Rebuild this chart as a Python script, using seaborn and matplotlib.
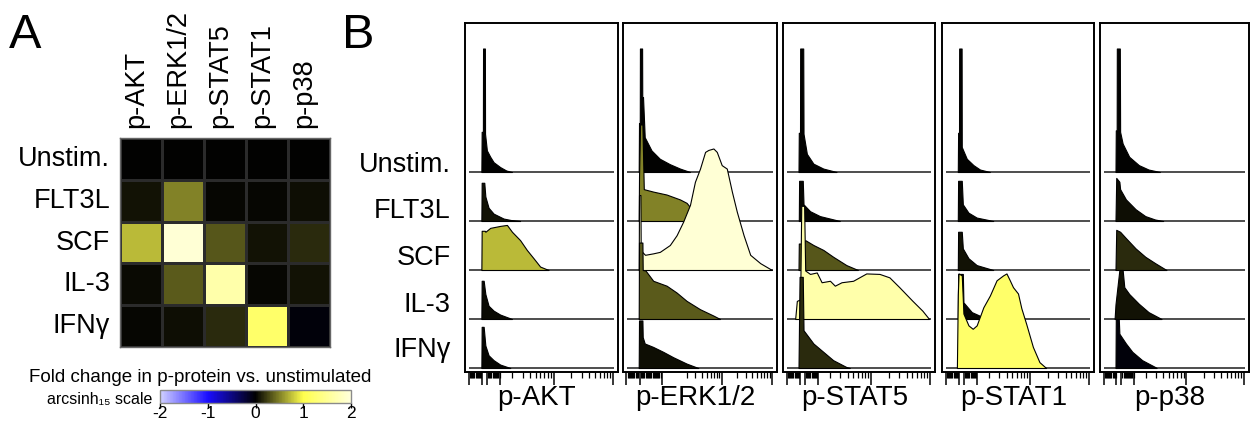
import numpy as np
import pandas as pd
import seaborn as sns
import matplotlib.pyplot as plt
from matplotlib.colors import LinearSegmentedColormap, Normalize
from matplotlib.cm import ScalarMappable
from matplotlib.transforms import ScaledTranslation

sns.set_theme(style='white')
plt.rcParams['font.family'] = ['Liberation Sans', 'DejaVu Sans']
plt.rcParams['text.color'] = 'black'
plt.rcParams['axes.labelcolor'] = 'black'
plt.rcParams['xtick.color'] = 'black'
plt.rcParams['ytick.color'] = 'black'

stimuli = ['Unstim.', 'FLT3L', 'SCF', 'IL-3', 'IFNγ']
proteins = ['p-AKT', 'p-ERK1/2', 'p-STAT5', 'p-STAT1', 'p-p38']

# fold change (arcsinh scale), rows = stimuli, cols = proteins
fold_unstim = [0.0, 0.0, 0.0, 0.0, 0.0]
fold_flt3l = [0.07, 0.5, 0.03, 0.02, 0.06]
fold_scf = [0.72, 1.95, 0.33, 0.07, 0.17]
fold_il3 = [0.04, 0.35, 1.65, 0.02, 0.07]
fold_ifng = [0.02, 0.06, 0.17, 1.2, -0.04]

# histogram outlines: channel position (0-100) and height (in row units)
akt_x = [[10.7, 10.9, 11.7, 11.8, 13.0, 13.1, 14.3, 16.5, 18.7, 23.0, 27.0, 30.7],
         [10.7, 10.9, 12.6, 13.3, 15.4, 18.7, 25.2, 30.0, 36.0],
         [10.7, 10.9, 13.0, 13.3, 16.5, 23.0, 27.4, 30.7, 36.0, 40.4, 44.8, 49.1, 54.6],
         [10.7, 10.9, 12.2, 13.3, 15.4, 18.7, 23.0, 30.7],
         [10.7, 10.9, 12.2, 13.3, 15.4, 18.7, 23.0, 29.6]]
akt_h = [[0, 0.82, 0.82, 2.52, 2.52, 0.78, 0.44, 0.31, 0.2, 0.1, 0.03, 0],
         [0, 0.78, 0.78, 0.5, 0.27, 0.15, 0.05, 0.02, 0],
         [0, 0.8, 0.8, 0.78, 0.86, 0.9, 0.92, 0.78, 0.61, 0.41, 0.24, 0.07, 0],
         [0, 0.78, 0.78, 0.51, 0.27, 0.17, 0.09, 0],
         [0, 0.84, 0.84, 0.46, 0.26, 0.16, 0.07, 0]]

erk_x = [[10.2, 10.4, 10.9, 11.0, 12.4, 12.5, 13.0, 14.1, 18.5, 23.9, 30.4, 37.0, 43.5],
         [10.2, 10.4, 11.1, 12.6, 13.5, 19.6, 28.3, 37.0, 41.3, 45.7, 52.2],
         [10.2, 10.4, 11.3, 11.5, 14.3, 19.6, 23.9, 30.4, 34.8, 39.1, 43.5, 46.7, 50.0,
          53.3, 55.4, 58.7, 60.9, 64.1, 67.4, 70.7, 73.9, 78.3, 82.6, 89.1, 96.7],
         [10.2, 10.4, 12.6, 12.8, 14.6, 19.6, 28.3, 34.8, 41.3, 50.0, 58.7, 63.0],
         [10.2, 10.4, 12.6, 12.8, 14.1, 19.6, 26.1, 32.6, 41.3, 48.9]]
erk_h = [[0, 1.0, 1.0, 2.52, 2.52, 1.53, 1.53, 0.71, 0.44, 0.27, 0.16, 0.07, 0],
         [0, 0.9, 1.97, 1.97, 0.65, 0.6, 0.54, 0.44, 0.37, 0.2, 0],
         [0, 1.53, 1.53, 0.4, 0.31, 0.34, 0.37, 0.51, 0.71, 0.99, 1.33, 1.8, 2.07,
          2.41, 2.45, 2.48, 2.41, 2.14, 2.07, 1.6, 1.19, 0.71, 0.31, 0.14, 0],
         [0, 1.56, 1.56, 1.0, 0.99, 0.78, 0.68, 0.54, 0.37, 0.2, 0.07, 0],
         [0, 0.97, 0.97, 0.63, 0.5, 0.43, 0.33, 0.22, 0.09, 0]]

stat5_x = [[10.2, 10.4, 11.2, 11.3, 13.3, 13.5, 15.7, 20.0, 26.5, 35.2],
           [10.4, 10.6, 13.0, 13.5, 17.8, 24.3, 37.4],
           [10.2, 10.4, 14.0, 14.6, 20.0, 26.5, 33.0, 41.7, 49.3],
           [8.0, 9.1, 11.3, 12.0, 13.9, 14.6, 17.8, 22.2, 25.4, 30.9, 34.1, 38.5, 46.1,
            54.8, 63.5, 70.0, 76.5, 85.2, 91.7, 96.1],
           [10.2, 10.9, 13.0, 13.5, 20.0, 26.5, 33.0, 41.7, 43.9]]
stat5_h = [[0, 0.8, 0.8, 2.52, 2.52, 0.78, 0.37, 0.17, 0.07, 0],
           [0, 0.82, 0.82, 0.34, 0.2, 0.1, 0],
           [0, 0.54, 0.54, 0.61, 0.51, 0.41, 0.27, 0.1, 0],
           [0, 0.37, 0.4, 2.31, 2.31, 0.99, 0.92, 0.95, 0.75, 0.78, 0.68, 0.75, 0.78,
            0.93, 0.92, 0.85, 0.65, 0.37, 0.17, 0],
           [0, 1.86, 1.86, 0.77, 0.5, 0.33, 0.16, 0.02, 0]]

stat1_x = [[10.4, 10.6, 11.2, 11.3, 12.9, 13.0, 16.3, 20.7, 25.0, 31.5],
           [10.4, 10.6, 13.0, 13.7, 17.4, 22.8, 33.7],
           [10.4, 10.6, 13.0, 13.7, 17.4, 22.8, 33.7],
           [10.4, 10.6, 13.7, 14.1, 19.6, 26.1, 33.7],
           [9.8, 10.4, 10.9, 13.0, 14.1, 17.4, 20.2, 22.8, 27.2, 31.5, 35.9, 40.2, 42.4,
            44.6, 46.7, 50.0, 52.2, 55.4, 59.8, 64.1, 68.5]]
stat1_h = [[0, 0.8, 0.8, 2.52, 2.52, 0.51, 0.27, 0.14, 0.05, 0],
           [0, 0.82, 0.82, 0.34, 0.17, 0.07, 0],
           [0, 0.78, 0.78, 0.44, 0.24, 0.1, 0],
           [0, 0.92, 0.92, 0.34, 0.14, 0.05, 0],
           [0, 1.5, 1.93, 1.89, 1.11, 0.87, 0.8, 0.87, 1.24, 1.48, 1.79, 1.89, 1.93,
            1.79, 1.65, 1.52, 1.22, 0.9, 0.43, 0.12, 0]]

p38_x = [[10.4, 10.6, 11.2, 11.3, 13.3, 13.5, 15.2, 19.6, 26.1, 32.6, 40.2],
         [10.4, 10.9, 13.0, 13.5, 17.4, 23.9, 30.4, 37.0, 42.4],
         [10.4, 10.9, 13.5, 17.4, 23.9, 30.4, 37.0, 44.6],
         [9.8, 10.4, 13.0, 15.2, 16.3, 19.6, 26.1, 32.6, 41.3],
         [10.4, 10.6, 12.6, 13.0, 17.4, 21.7, 28.3, 37.0, 38.0]]
p38_h = [[0, 0.85, 0.85, 2.52, 2.52, 0.82, 0.58, 0.31, 0.14, 0.05, 0],
         [0, 0.88, 0.8, 0.65, 0.44, 0.24, 0.1, 0.03, 0],
         [0, 0.82, 0.78, 0.65, 0.44, 0.27, 0.14, 0],
         [0, 0.3, 1.0, 1.0, 0.65, 0.51, 0.31, 0.14, 0],
         [0, 1.0, 1.0, 0.7, 0.5, 0.33, 0.16, 0.02, 0]]

hist_x = [akt_x, erk_x, stat5_x, stat1_x, p38_x]
hist_h = [akt_h, erk_h, stat5_h, stat1_h, p38_h]

fold = pd.DataFrame([fold_unstim, fold_flt3l, fold_scf, fold_il3, fold_ifng],
                    index=stimuli, columns=proteins)

cmap = LinearSegmentedColormap.from_list('fold', [
    (0.0, (0.82, 0.82, 1.0)),
    (0.25, (0.1, 0.05, 1.0)),
    (0.5, (0.0, 0.0, 0.0)),
    (0.75, (1.0, 1.0, 0.3)),
    (1.0, (1.0, 1.0, 0.86))])
norm = Normalize(-2, 2)

W, H = 1252, 423


def box(l, t, r, b):
    return [l / W, 1 - b / H, (r - l) / W, (b - t) / H]


fig = plt.figure(figsize=(12.52, 4.23), dpi=100)

# ---- panel A: heatmap
ax = fig.add_axes(box(120, 138, 330, 347))
sns.heatmap(fold, cmap=cmap, vmin=-2, vmax=2, cbar=False, linewidths=1.0,
            linecolor='#2b2b2b', ax=ax)
ax.xaxis.tick_top()
ax.set_xticklabels(proteins, rotation=90, fontsize=19.5)
ax.set_yticklabels(stimuli, rotation=0, fontsize=19.5)
ax.tick_params(length=0, pad=7)
shift = ScaledTranslation(-5 / 100, 0, fig.dpi_scale_trans)
for lab in ax.get_xticklabels():
    lab.set_transform(lab.get_transform() + shift)
ax.set_xlabel('')
ax.set_ylabel('')
for s in ax.spines.values():
    s.set_visible(True)
    s.set_color('#666666')
    s.set_linewidth(1.0)

cax = fig.add_axes(box(160, 390, 351, 403))
cb = fig.colorbar(ScalarMappable(norm=norm, cmap=cmap), cax=cax,
                  orientation='horizontal', ticks=[-2, -1, 0, 1, 2])
cb.outline.set_edgecolor('#8a8a8a')
cb.outline.set_linewidth(1.0)
cax.tick_params(length=3.5, width=1, pad=-1.5, labelsize=12.5, colors='black')
cax.set_xticklabels(['-2', '-1', '0', '1', '2'])

fig.text(200 / W, 1 - 382 / H, 'Fold change in p-protein vs. unstimulated',
         ha='center', va='baseline', fontsize=13.5)
fig.text(152 / W, 1 - 404 / H, 'arcsinh₁₅ scale', ha='right', va='baseline',
         fontsize=11.5)

fig.text(9 / W, 1 - 48 / H, 'A', fontsize=35, va='baseline')
fig.text(342 / W, 1 - 48 / H, 'B', fontsize=35, va='baseline')

# ---- panel B: stacked histograms
lefts = [465, 623, 783, 942, 1100]
rights = [618, 777, 935, 1094, 1249]

std_ticks = dict(dense=[(2.4, 11.0), (14.3, 23.0)], major=[2.4, 11.0, 14.3, 23.0, 57.9, 96.7],
                 dec0=19.1, dwidth=38.8)
erk_ticks = dict(dense=[(2.2, 10.0), (11.7, 25.2)], major=[2.2, 10.9, 25.2, 64.1, 96.7],
                 dec0=31.5, dwidth=32.6)
tick_specs = [std_ticks, erk_ticks, std_ticks, std_ticks, std_ticks]

for j, name in enumerate(proteins):
    axb = fig.add_axes(box(lefts[j], 23, rights[j], 372))
    for i in range(5):
        base = 4 - i
        axb.plot([2.4, 97.2], [base, base], color='#1c1c1c', lw=1.1,
                 solid_capstyle='butt', zorder=2 + 2 * i)
        x = np.array(hist_x[j][i])
        h = np.array(hist_h[j][i])
        axb.fill_between(x, base, base + h, facecolor=cmap(norm(fold.iloc[i, j])),
                         edgecolor='black', lw=0.8, zorder=3 + 2 * i)
    axb.set_xlim(0, 100)
    axb.set_ylim(-4 / 49, 345 / 49)
    axb.set_yticks([])

    spec = tick_specs[j]
    minor = []
    for a, b in spec['dense']:
        minor += list(np.arange(a, b, 0.75))
    for d in range(2):
        start = spec['dec0'] + d * spec['dwidth']
        minor += [start + spec['dwidth'] * np.log10(k) for k in range(2, 10)]
    axb.set_xticks(spec['major'])
    axb.set_xticks(minor, minor=True)
    axb.set_xticklabels([])
    axb.tick_params(axis='x', which='major', bottom=True, direction='out',
                    length=9, width=1.1, color='black')
    axb.tick_params(axis='x', which='minor', bottom=True, direction='out',
                    length=4.5, width=0.9, color='black')
    for s in axb.spines.values():
        s.set_color('black')
        s.set_linewidth(1.4)
    axb.text(0.47, -33 / 349, name, transform=axb.transAxes, ha='center',
             va='baseline', fontsize=20)

label_y = [171.5, 218, 265, 312, 357]
for lab, y in zip(stimuli, label_y):
    fig.text(451 / W, 1 - y / H, lab, ha='right', va='baseline', fontsize=19.5)

fig.savefig('out.png', dpi=100)
